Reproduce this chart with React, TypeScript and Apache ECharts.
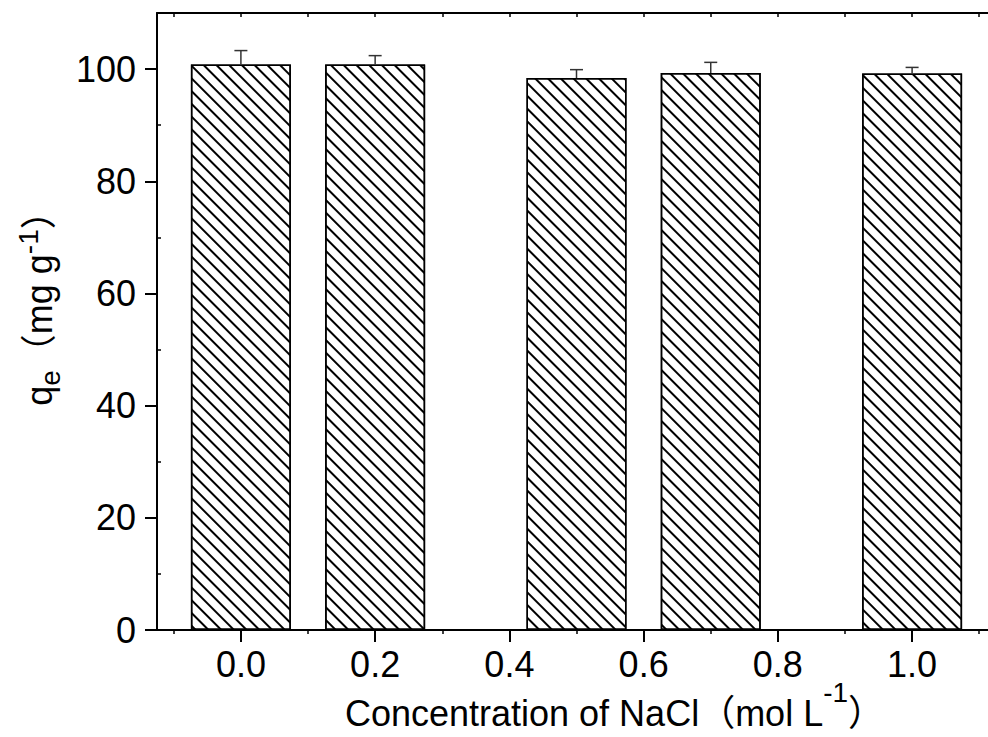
import React, { useEffect, useRef } from "react";
import * as echarts from "echarts";

const concentrations = [0, 0.2, 0.5, 0.7, 1.0];
const qeValues = [100.8, 100.8, 98.4, 99.3, 99.2];
const qeErrors = [2.5, 1.6, 1.5, 1.9, 1.1];
const xTickValues = [0, 0.2, 0.4, 0.6, 0.8, 1.0];
const xMinorTickValues = [-0.1, 0.1, 0.3, 0.5, 0.7, 0.9, 1.1];
const xTopTickValues = [-0.1, 0, 0.1, 0.2, 0.3, 0.4, 0.5, 0.6, 0.7, 0.8, 0.9, 1.0, 1.1];
const yTickValues = [0, 20, 40, 60, 80, 100];
const yMinorTickValues = [10, 30, 50, 70, 90];

const FONT = "'Liberation Sans', Arial, 'Noto Sans CJK SC', sans-serif";
const X_MIN = -0.125;
const X_MAX = 1.125;

export default function App() {
  const ref = useRef<HTMLDivElement>(null);
  useEffect(() => {
    if (!ref.current) return;
    document.body.style.margin = "0";
    document.body.style.overflow = "hidden";
    const chart = echarts.init(ref.current, undefined, { renderer: "svg", width: 988, height: 737 });
    const barData = concentrations.map((c, i) => [c, qeValues[i]]);
    const errData = concentrations.map((c, i) => [c, qeValues[i], qeErrors[i]]);
    const lineStyle = { color: "#000", width: 2 };
    chart.setOption({
      animation: false,
      backgroundColor: "#fff",
      grid: { show: false, left: 157, right: -8, top: 13, bottom: 107, containLabel: false, outerBoundsMode: "none" },
      xAxis: [
        {
          type: "value",
          min: X_MIN,
          max: X_MAX,
          position: "bottom",
          name: "Concentration of NaCl（mol L{sup|-1}）",
          nameLocation: "middle",
          nameGap: 48,
          nameMoveOverlap: false,
          nameTextStyle: {
            fontFamily: FONT,
            fontSize: 36,
            color: "#000",
            lineHeight: 70,
            padding: [0, 0, 0, 76],
            rich: {
              sup: { fontFamily: FONT, fontSize: 28, lineHeight: 28, verticalAlign: "top", color: "#000" },
            },
          },
          axisLine: { show: true, onZero: false, lineStyle },
          axisTick: { show: true, length: 12, inside: false, customValues: xTickValues, lineStyle },
          axisLabel: {
            show: true,
            customValues: xTickValues,
            margin: 16,
            fontFamily: FONT,
            fontSize: 36,
            color: "#000",
            formatter: (v: number) => v.toFixed(1),
          },
          splitLine: { show: false },
        },
        {
          type: "value",
          min: X_MIN,
          max: X_MAX,
          position: "bottom",
          offset: 0,
          axisLine: { show: false, onZero: false },
          axisTick: { show: true, length: 4, inside: false, customValues: xMinorTickValues, lineStyle: { color: "#000", width: 1.5 } },
          axisLabel: { show: false },
          splitLine: { show: false },
        },
        {
          type: "value",
          min: X_MIN,
          max: X_MAX,
          position: "top",
          offset: 0,
          axisLine: { show: true, onZero: false, lineStyle },
          axisTick: { show: true, length: 4, inside: true, customValues: xTopTickValues, lineStyle: { color: "#000", width: 1.5 } },
          axisLabel: { show: false },
          splitLine: { show: false },
        },
      ],
      yAxis: [
        {
          type: "value",
          min: 0,
          max: 110,
          position: "left",
          offset: 0,
          name: "q{sub|e}（mg g{sup|-1}）",
          nameLocation: "middle",
          nameGap: 93,
          nameMoveOverlap: false,
          nameTextStyle: {
            fontFamily: FONT,
            fontSize: 36,
            color: "#000",
            lineHeight: 50,
            padding: [0, 0, 0, 44],
            rich: {
              sup: { fontFamily: FONT, fontSize: 28, lineHeight: 28, verticalAlign: "top", color: "#000" },
              sub: { fontFamily: FONT, fontSize: 28, lineHeight: 34, verticalAlign: "bottom", color: "#000" },
            },
          },
          axisLine: { show: true, onZero: false, lineStyle },
          axisTick: { show: true, length: 12, inside: false, customValues: yTickValues, lineStyle },
          axisLabel: {
            show: true,
            customValues: yTickValues,
            margin: 21,
            fontFamily: FONT,
            fontSize: 36,
            color: "#000",
          },
          splitLine: { show: false },
        },
        {
          type: "value",
          min: 0,
          max: 110,
          position: "left",
          offset: 0,
          axisLine: { show: false, onZero: false },
          axisTick: { show: true, length: 4, inside: true, customValues: yMinorTickValues, lineStyle: { color: "#000", width: 1.5 } },
          axisLabel: { show: false },
          splitLine: { show: false },
        },
      ],
      series: [
        {
          type: "bar",
          xAxisIndex: 0,
          yAxisIndex: 0,
          data: barData,
          barWidth: 100,
          itemStyle: {
            color: "#fff",
            borderColor: "#000",
            borderWidth: 1.5,
            decal: {
              symbol: "rect",
              symbolSize: 1,
              color: "#000",
              dashArrayX: [1, 0],
              dashArrayY: [1.2, 7],
              rotation: Math.PI / 4,
            },
          },
          z: 2,
        },
        {
          type: "custom",
          xAxisIndex: 0,
          yAxisIndex: 0,
          data: errData,
          encode: { x: 0, y: 1 },
          z: 3,
          renderItem: (params: any, api: any) => {
            const x = api.value(0);
            const v = api.value(1);
            const e = api.value(2);
            const p0 = api.coord([x, v]);
            const p1 = api.coord([x, v + e]);
            const st = { stroke: "#333", lineWidth: 1.5 };
            return {
              type: "group",
              children: [
                { type: "line", shape: { x1: p0[0], y1: p0[1], x2: p1[0], y2: p1[1] }, style: st },
                { type: "line", shape: { x1: p1[0] - 6.5, y1: p1[1], x2: p1[0] + 6.5, y2: p1[1] }, style: st },
              ],
            };
          },
        },
      ],
    });
    return () => chart.dispose();
  }, []);
  return (
    <div
      ref={ref}
      style={{ position: "absolute", left: 0, top: 0, width: 988, height: 737, background: "#fff", overflow: "hidden" }}
    />
  );
}
